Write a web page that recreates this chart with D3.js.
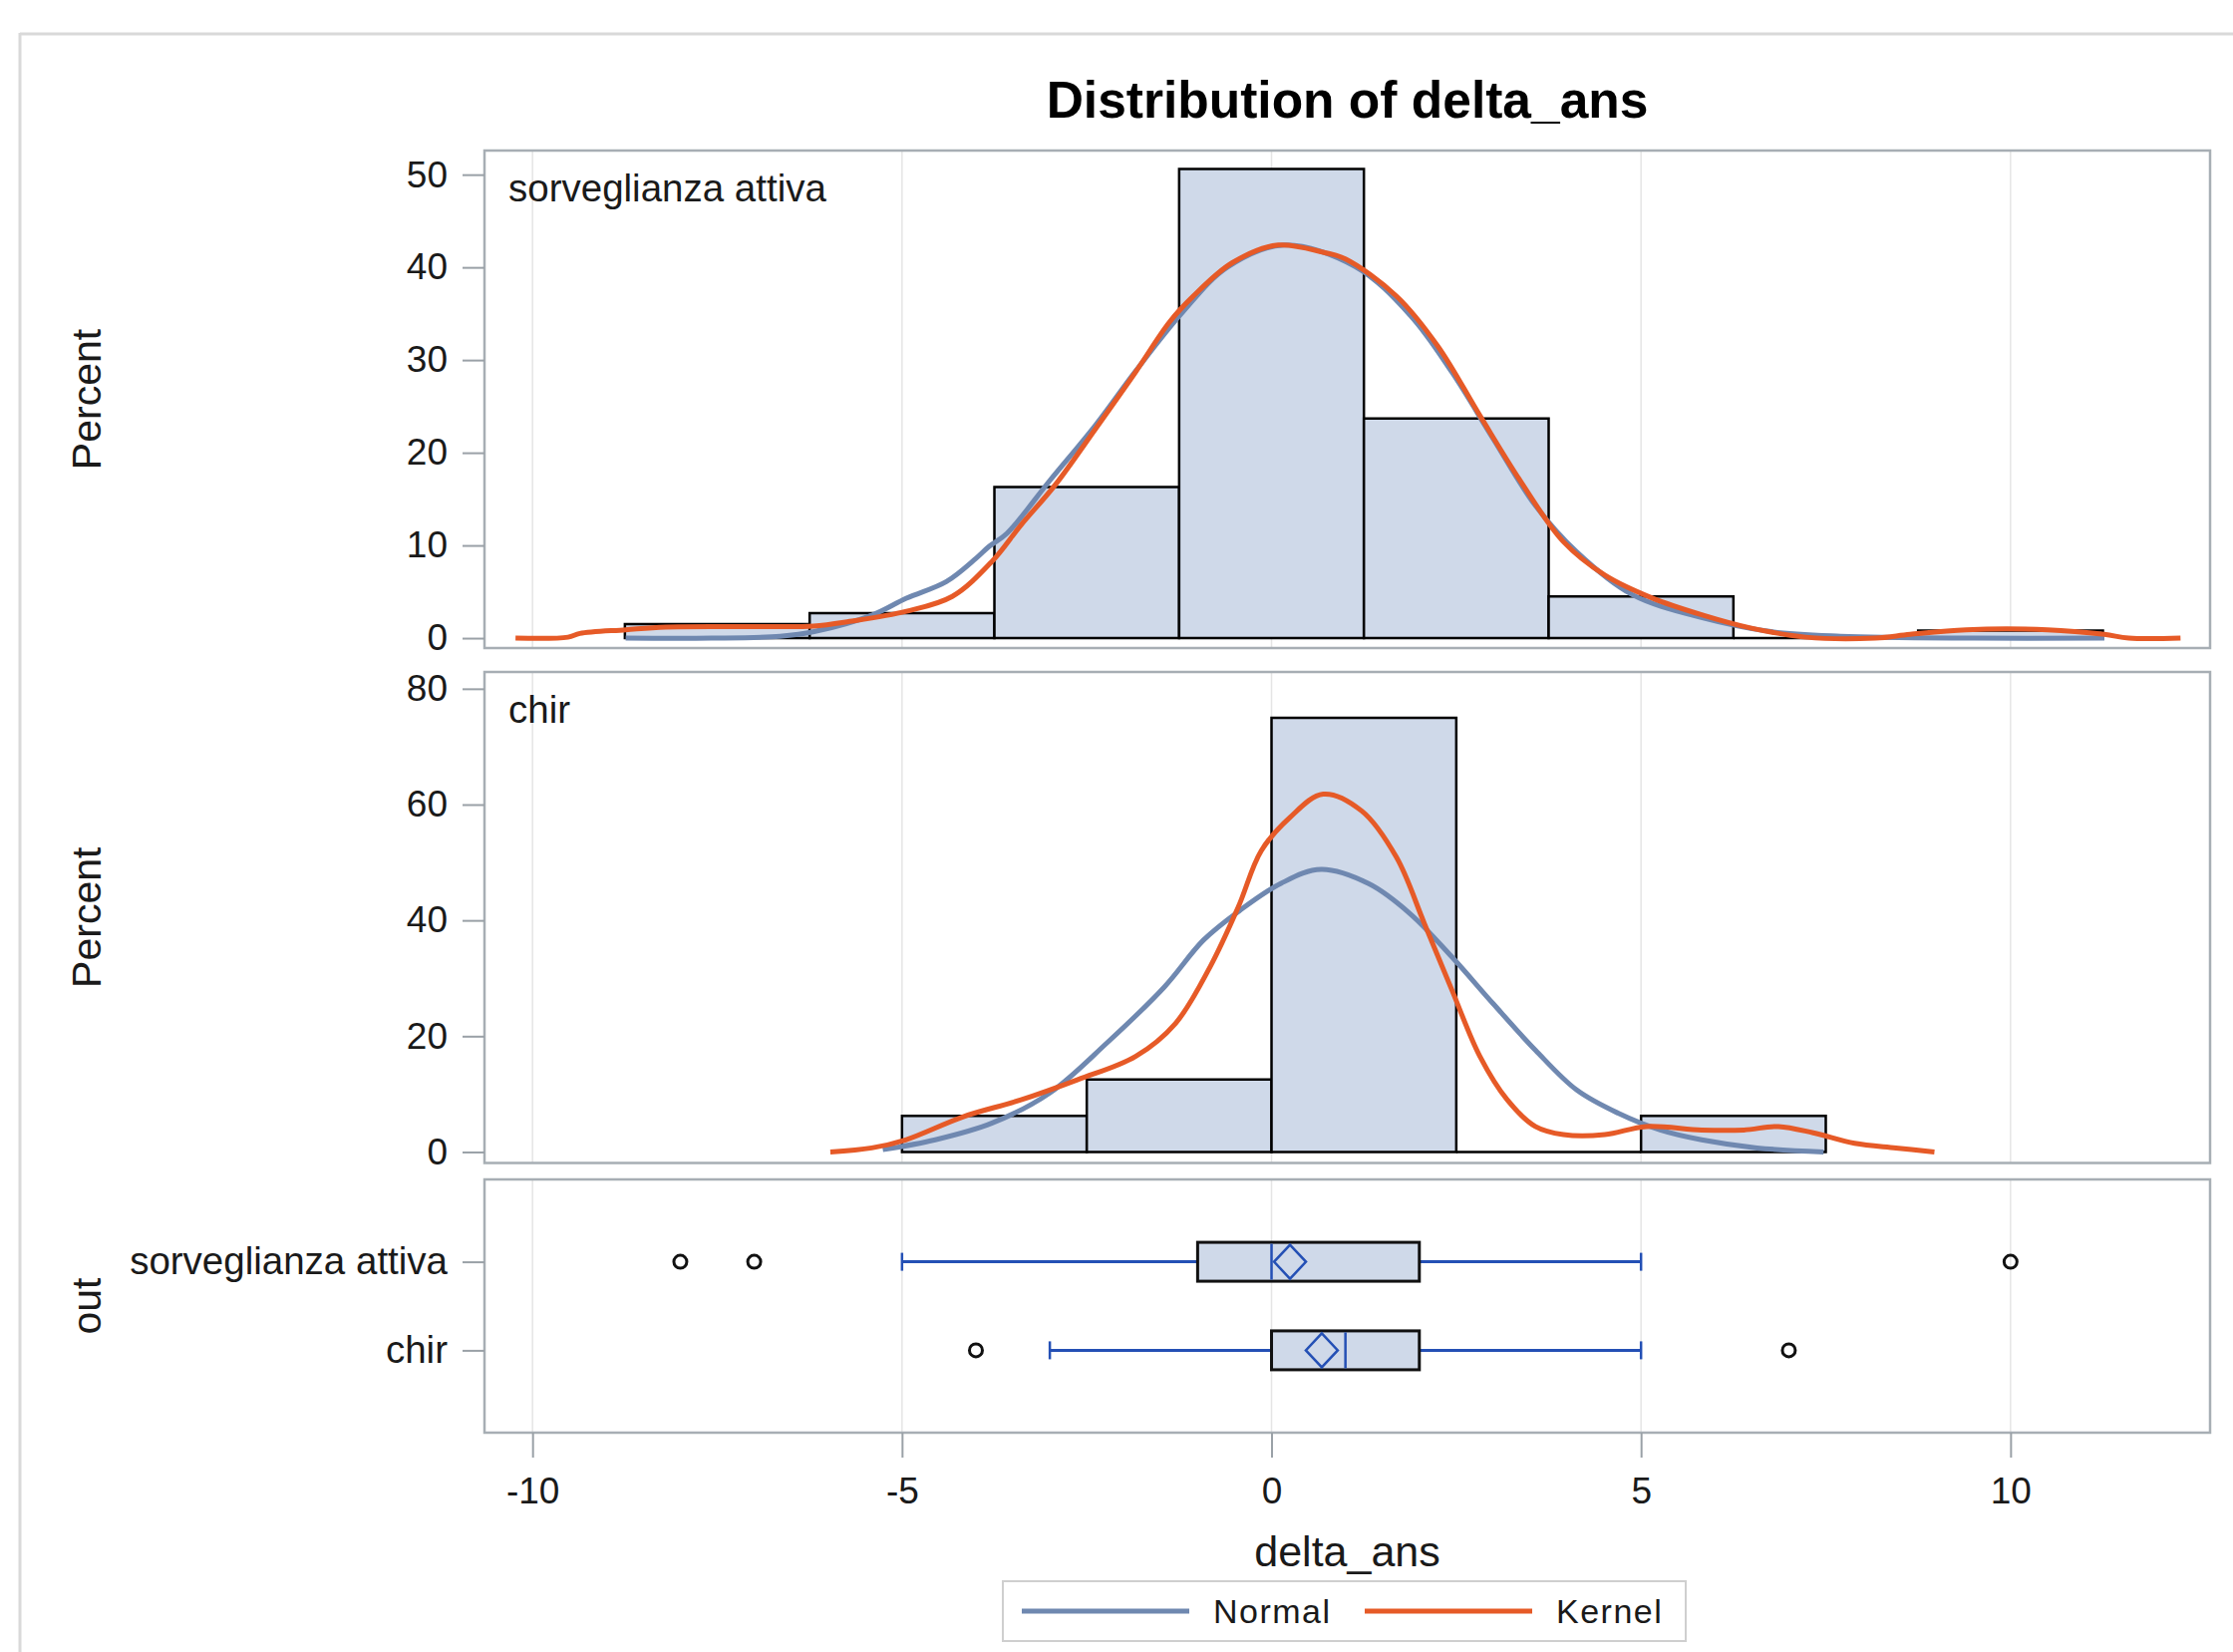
<!DOCTYPE html>
<html>
<head>
<meta charset="utf-8">
<script src="https://cdn.jsdelivr.net/npm/d3@7/dist/d3.min.js"></script>
<style>
    body { margin: 0; background: #fff; }
    svg { display: block; font-family: "Liberation Sans", Arial, sans-serif; }
</style>
</head>
<body>
<svg id="chart" width="2240" height="1657"></svg>
<script>
// ---- data ----
const groups = ["sorveglianza attiva", "chir"];
const binWidth = 2.5;

// histogram bins: midpoints and percent
const sorvBinMid = [-7.5, -5, -2.5, 0, 2.5, 5, 7.5, 10];
const sorvPercent = [1.5, 2.7, 16.3, 50.6, 23.7, 4.5, 0, 0.8];
const chirBinMid = [-3.75, -1.25, 1.25, 3.75, 6.25];
const chirPercent = [6.25, 12.5, 75, 0, 6.25];

// curves, [delta_ans, percent]
const sorvNormal = [
    [-8.74, 0], [-7.58, 0], [-6.65, 0.2], [-6.19, 0.7], [-5.4, 2.5], [-4.94, 4.3],
    [-4.4, 6.1], [-4.0, 8.6], [-3.82, 9.9], [-3.58, 11.3], [-3.0, 17.0], [-2.38, 23.0],
    [-1.84, 28.8], [-1.22, 35.0], [-0.6, 40.0], [0.17, 42.4], [1.13, 40.1], [1.88, 34.8],
    [2.44, 28.7], [3.0, 21.5], [3.57, 14.3], [4.13, 9.3], [4.88, 4.7], [5.83, 2.2],
    [6.76, 0.7], [7.7, 0.2], [9.5, 0], [11.27, 0]
];
const sorvKernel = [
    [-10.23, 0], [-9.52, 0.1], [-9.36, 0.5], [-8.74, 0.9], [-8.2, 1.2], [-7.0, 1.25],
    [-6.2, 1.3], [-5.71, 1.8], [-4.94, 2.9], [-4.32, 4.5], [-3.78, 8.3], [-3.39, 12.2],
    [-2.93, 16.5], [-2.38, 22.6], [-1.84, 28.7], [-1.38, 34.1], [-1.07, 36.8], [-0.53, 40.5],
    [0.09, 42.4], [0.71, 41.6], [1.0, 40.9], [1.69, 36.9], [2.25, 31.5], [2.82, 24.0],
    [3.38, 16.8], [3.95, 10.4], [4.51, 6.8], [5.16, 4.3], [5.83, 2.5], [6.48, 1.1],
    [7.23, 0.1], [8.17, 0], [8.64, 0.4], [9.4, 0.9], [10.5, 0.9], [11.27, 0.4],
    [11.6, 0], [12.3, 0]
];
const chirNormal = [
    [-5.26, 0.4], [-4.55, 2.1], [-3.78, 5.0], [-3.0, 10.2], [-2.23, 18.8],
    [-1.45, 28.5], [-0.92, 36.6], [-0.44, 41.6], [0.13, 46.4], [0.67, 48.8], [1.32, 46.3],
    [1.88, 41.1], [2.44, 33.7], [3.0, 25.6], [3.57, 17.6], [4.13, 10.7], [4.69, 6.7],
    [5.26, 3.8], [5.82, 2.1], [6.57, 0.7], [7.47, 0]
];
const chirKernel = [
    [-5.97, 0], [-5.41, 0.7], [-4.95, 2.1], [-4.17, 6.1], [-3.39, 9.0], [-2.62, 12.5],
    [-1.84, 16.5], [-1.3, 22.2], [-0.83, 32], [-0.45, 42.3], [-0.14, 52], [0.25, 57.8],
    [0.7, 61.8], [1.22, 58.9], [1.69, 50.9], [2.07, 39.4], [2.44, 28], [2.82, 16.5],
    [3.19, 9.0], [3.57, 4.4], [3.95, 3.0], [4.51, 3.0], [5.07, 4.4], [5.82, 3.8],
    [6.39, 3.8], [6.86, 4.4], [7.33, 3.3], [7.89, 1.5], [8.45, 0.7], [8.97, 0]
];

// box plot stats per group
const whiskerLow = [-5, -3];
const q1 = [-1, 0];
const median = [0, 1];
const q3 = [2, 2];
const whiskerHigh = [5, 5];
const mean = [0.25, 0.68];
const outliers = [[-8, -7, 10], [-4, 7]];

const xTicks = [-10, -5, 0, 5, 10];
const sorvYTicks = [0, 10, 20, 30, 40, 50];
const chirYTicks = [0, 20, 40, 60, 80];
const legendKeys = ["Normal", "Kernel"];

// ---- options ----
const colors = {
    frame: "#d9d9d9",
    border: "#a7aeb4",
    grid: "#e5e5e5",
    tick: "#9aa1a7",
    text: "#1a1a1a",
    bar: "#cfd9e9",
    normal: "#6f88b0",
    kernel: "#e65a27",
    box: "#2450b5"
};
const plotLeft = 486, plotRight = 2217;

const svg = d3.select("#chart");

// outer frame
svg.append("line").attr("x1", 20).attr("x2", 20).attr("y1", 33).attr("y2", 1657)
    .attr("stroke", colors.frame).attr("stroke-width", 3);
svg.append("line").attr("x1", 20).attr("x2", 2240).attr("y1", 34).attr("y2", 34)
    .attr("stroke", colors.frame).attr("stroke-width", 3);

// title
svg.append("text")
    .attr("x", (plotLeft + plotRight) / 2)
    .attr("y", 118)
    .attr("text-anchor", "middle")
    .attr("font-size", 51.5)
    .attr("font-weight", "bold")
    .attr("fill", "#000")
    .text("Distribution of delta_ans");

// shared x scale
const xScale = d3.scaleLinear().domain([-10.65, 12.70]).range([plotLeft, plotRight]);

function styleAxis(g) {
    g.select(".domain").remove();
    g.selectAll(".tick line").attr("stroke", colors.tick).attr("stroke-width", 2);
    g.selectAll(".tick text")
        .attr("fill", colors.text)
        .attr("font-size", 37)
        .attr("font-family", "Liberation Sans, Arial, sans-serif");
}

function drawGrid(top, bottom) {
    svg.append("g").selectAll("line")
        .data(xTicks)
        .join("line")
        .attr("x1", d => xScale(d)).attr("x2", d => xScale(d))
        .attr("y1", top).attr("y2", bottom)
        .attr("stroke", colors.grid)
        .attr("stroke-width", 1.5);
}

function drawBorder(top, bottom) {
    svg.append("rect")
        .attr("x", plotLeft).attr("y", top)
        .attr("width", plotRight - plotLeft).attr("height", bottom - top)
        .attr("fill", "none")
        .attr("stroke", colors.border)
        .attr("stroke-width", 2.5);
}

function drawYTitle(label, top, bottom) {
    svg.append("text")
        .attr("transform", `translate(101, ${(top + bottom) / 2}) rotate(-90)`)
        .attr("text-anchor", "middle")
        .attr("font-size", 41)
        .attr("fill", colors.text)
        .text(label);
}

function drawHistPanel(p) {
    var yScale = d3.scaleLinear().domain(p.yDomain).range([p.bottom, p.top]);

    drawGrid(p.top, p.bottom);

    // bars (paths so empty bins still show their outline)
    var bins = p.mids.map((m, i) => ({ mid: m, pct: p.pcts[i] }));
    svg.append("g").selectAll("path")
        .data(bins)
        .join("path")
        .attr("d", d => {
            var x0 = xScale(d.mid - binWidth / 2), x1 = xScale(d.mid + binWidth / 2);
            var y0 = yScale(0), y1 = yScale(d.pct);
            return `M${x0},${y0}V${y1}H${x1}V${y0}Z`;
        })
        .attr("fill", colors.bar)
        .attr("stroke", "#000")
        .attr("stroke-width", 2.5);

    // curves
    var line = d3.line()
        .x(d => xScale(d[0]))
        .y(d => yScale(d[1]))
        .curve(d3.curveCatmullRom.alpha(0.5));

    svg.append("path")
        .attr("d", line(p.normal))
        .attr("fill", "none")
        .attr("stroke", colors.normal)
        .attr("stroke-width", 5)
        .attr("stroke-linejoin", "round");
    svg.append("path")
        .attr("d", line(p.kernel))
        .attr("fill", "none")
        .attr("stroke", colors.kernel)
        .attr("stroke-width", 5)
        .attr("stroke-linejoin", "round");

    drawBorder(p.top, p.bottom);

    // y axis
    svg.append("g")
        .attr("transform", `translate(${plotLeft},0)`)
        .call(d3.axisLeft(yScale).tickValues(p.ticks).tickSize(22).tickPadding(15).tickFormat(d => String(d)))
        .call(styleAxis);

    // group label inside panel
    svg.append("text")
        .attr("x", 510)
        .attr("y", p.top + 51)
        .attr("font-size", 38.5)
        .attr("fill", colors.text)
        .text(p.label);

    drawYTitle("Percent", p.top, p.bottom);
}

drawHistPanel({
    top: 151, bottom: 650, yDomain: [-1.07, 52.6], ticks: sorvYTicks,
    mids: sorvBinMid, pcts: sorvPercent, normal: sorvNormal, kernel: sorvKernel,
    label: groups[0]
});

drawHistPanel({
    top: 674, bottom: 1166.5, yDomain: [-1.9, 82.9], ticks: chirYTicks,
    mids: chirBinMid, pcts: chirPercent, normal: chirNormal, kernel: chirKernel,
    label: groups[1]
});

// ---- box plot panel ----
const boxTop = 1183, boxBottom = 1437;
const yBand = d3.scalePoint().domain(groups).range([boxTop, boxBottom]).padding(0.93);
const boxHalf = 19.5;

drawGrid(boxTop, boxBottom);

var boxData = groups.map((g, i) => ({
    group: g, lo: whiskerLow[i], q1: q1[i], med: median[i], q3: q3[i],
    hi: whiskerHigh[i], mean: mean[i], out: outliers[i]
}));

var boxes = svg.append("g").selectAll("g")
    .data(boxData)
    .join("g")
    .attr("transform", d => `translate(0,${yBand(d.group)})`);

// whiskers
boxes.append("line")
    .attr("x1", d => xScale(d.lo)).attr("x2", d => xScale(d.q1))
    .attr("stroke", colors.box).attr("stroke-width", 3);
boxes.append("line")
    .attr("x1", d => xScale(d.q3)).attr("x2", d => xScale(d.hi))
    .attr("stroke", colors.box).attr("stroke-width", 3);
boxes.selectAll(".cap")
    .data(d => [d.lo, d.hi])
    .join("line")
    .attr("class", "cap")
    .attr("x1", v => xScale(v)).attr("x2", v => xScale(v))
    .attr("y1", -9).attr("y2", 9)
    .attr("stroke", colors.box).attr("stroke-width", 2.5);

// box
boxes.append("rect")
    .attr("x", d => xScale(d.q1))
    .attr("y", -boxHalf)
    .attr("width", d => xScale(d.q3) - xScale(d.q1))
    .attr("height", boxHalf * 2)
    .attr("fill", colors.bar)
    .attr("stroke", "#111")
    .attr("stroke-width", 3);

// median
boxes.append("line")
    .attr("x1", d => xScale(d.med)).attr("x2", d => xScale(d.med))
    .attr("y1", -boxHalf + 1.5).attr("y2", boxHalf - 1.5)
    .attr("stroke", colors.box).attr("stroke-width", 2.5);

// mean diamond
boxes.append("path")
    .attr("d", d => {
        var cx = xScale(d.mean);
        return `M${cx},${-17}L${cx + 16},0L${cx},17L${cx - 16},0Z`;
    })
    .attr("fill", "none")
    .attr("stroke", colors.box)
    .attr("stroke-width", 2.5);

// outliers
boxes.selectAll(".outlier")
    .data(d => d.out)
    .join("circle")
    .attr("class", "outlier")
    .attr("cx", v => xScale(v))
    .attr("r", 6.5)
    .attr("fill", "none")
    .attr("stroke", "#111")
    .attr("stroke-width", 3);

drawBorder(boxTop, boxBottom);

svg.append("g")
    .attr("transform", `translate(${plotLeft},0)`)
    .call(d3.axisLeft(yBand).tickSize(22).tickPadding(15))
    .call(styleAxis)
    .call(g => g.selectAll(".tick text").attr("font-size", 38.5));

drawYTitle("out", boxTop, boxBottom);

// x axis
svg.append("g")
    .attr("transform", `translate(0,${boxBottom})`)
    .call(d3.axisBottom(xScale).tickValues(xTicks).tickSize(25).tickPadding(20).tickFormat(d => String(d)))
    .call(styleAxis);

svg.append("text")
    .attr("x", (plotLeft + plotRight) / 2)
    .attr("y", 1571)
    .attr("text-anchor", "middle")
    .attr("font-size", 43)
    .attr("fill", colors.text)
    .text("delta_ans");

// ---- legend ----
const legend = svg.append("g").attr("transform", "translate(1006,1586)");
legend.append("rect")
    .attr("width", 685).attr("height", 60)
    .attr("fill", "#fff")
    .attr("stroke", "#cfcfcf")
    .attr("stroke-width", 2);

const legendColor = d3.scaleOrdinal().domain(legendKeys).range([colors.normal, colors.kernel]);
const legendX = d3.scaleOrdinal().domain(legendKeys).range([19, 363]);

var items = legend.selectAll(".item")
    .data(legendKeys)
    .join("g")
    .attr("class", "item")
    .attr("transform", d => `translate(${legendX(d)},30)`);
items.append("line")
    .attr("x1", 0).attr("x2", 168)
    .attr("stroke", d => legendColor(d))
    .attr("stroke-width", 5);
items.append("text")
    .attr("x", 192)
    .attr("dy", "0.36em")
    .attr("font-size", 34)
    .attr("letter-spacing", 1.5)
    .attr("fill", colors.text)
    .text(d => d);
</script>
</body>
</html>
